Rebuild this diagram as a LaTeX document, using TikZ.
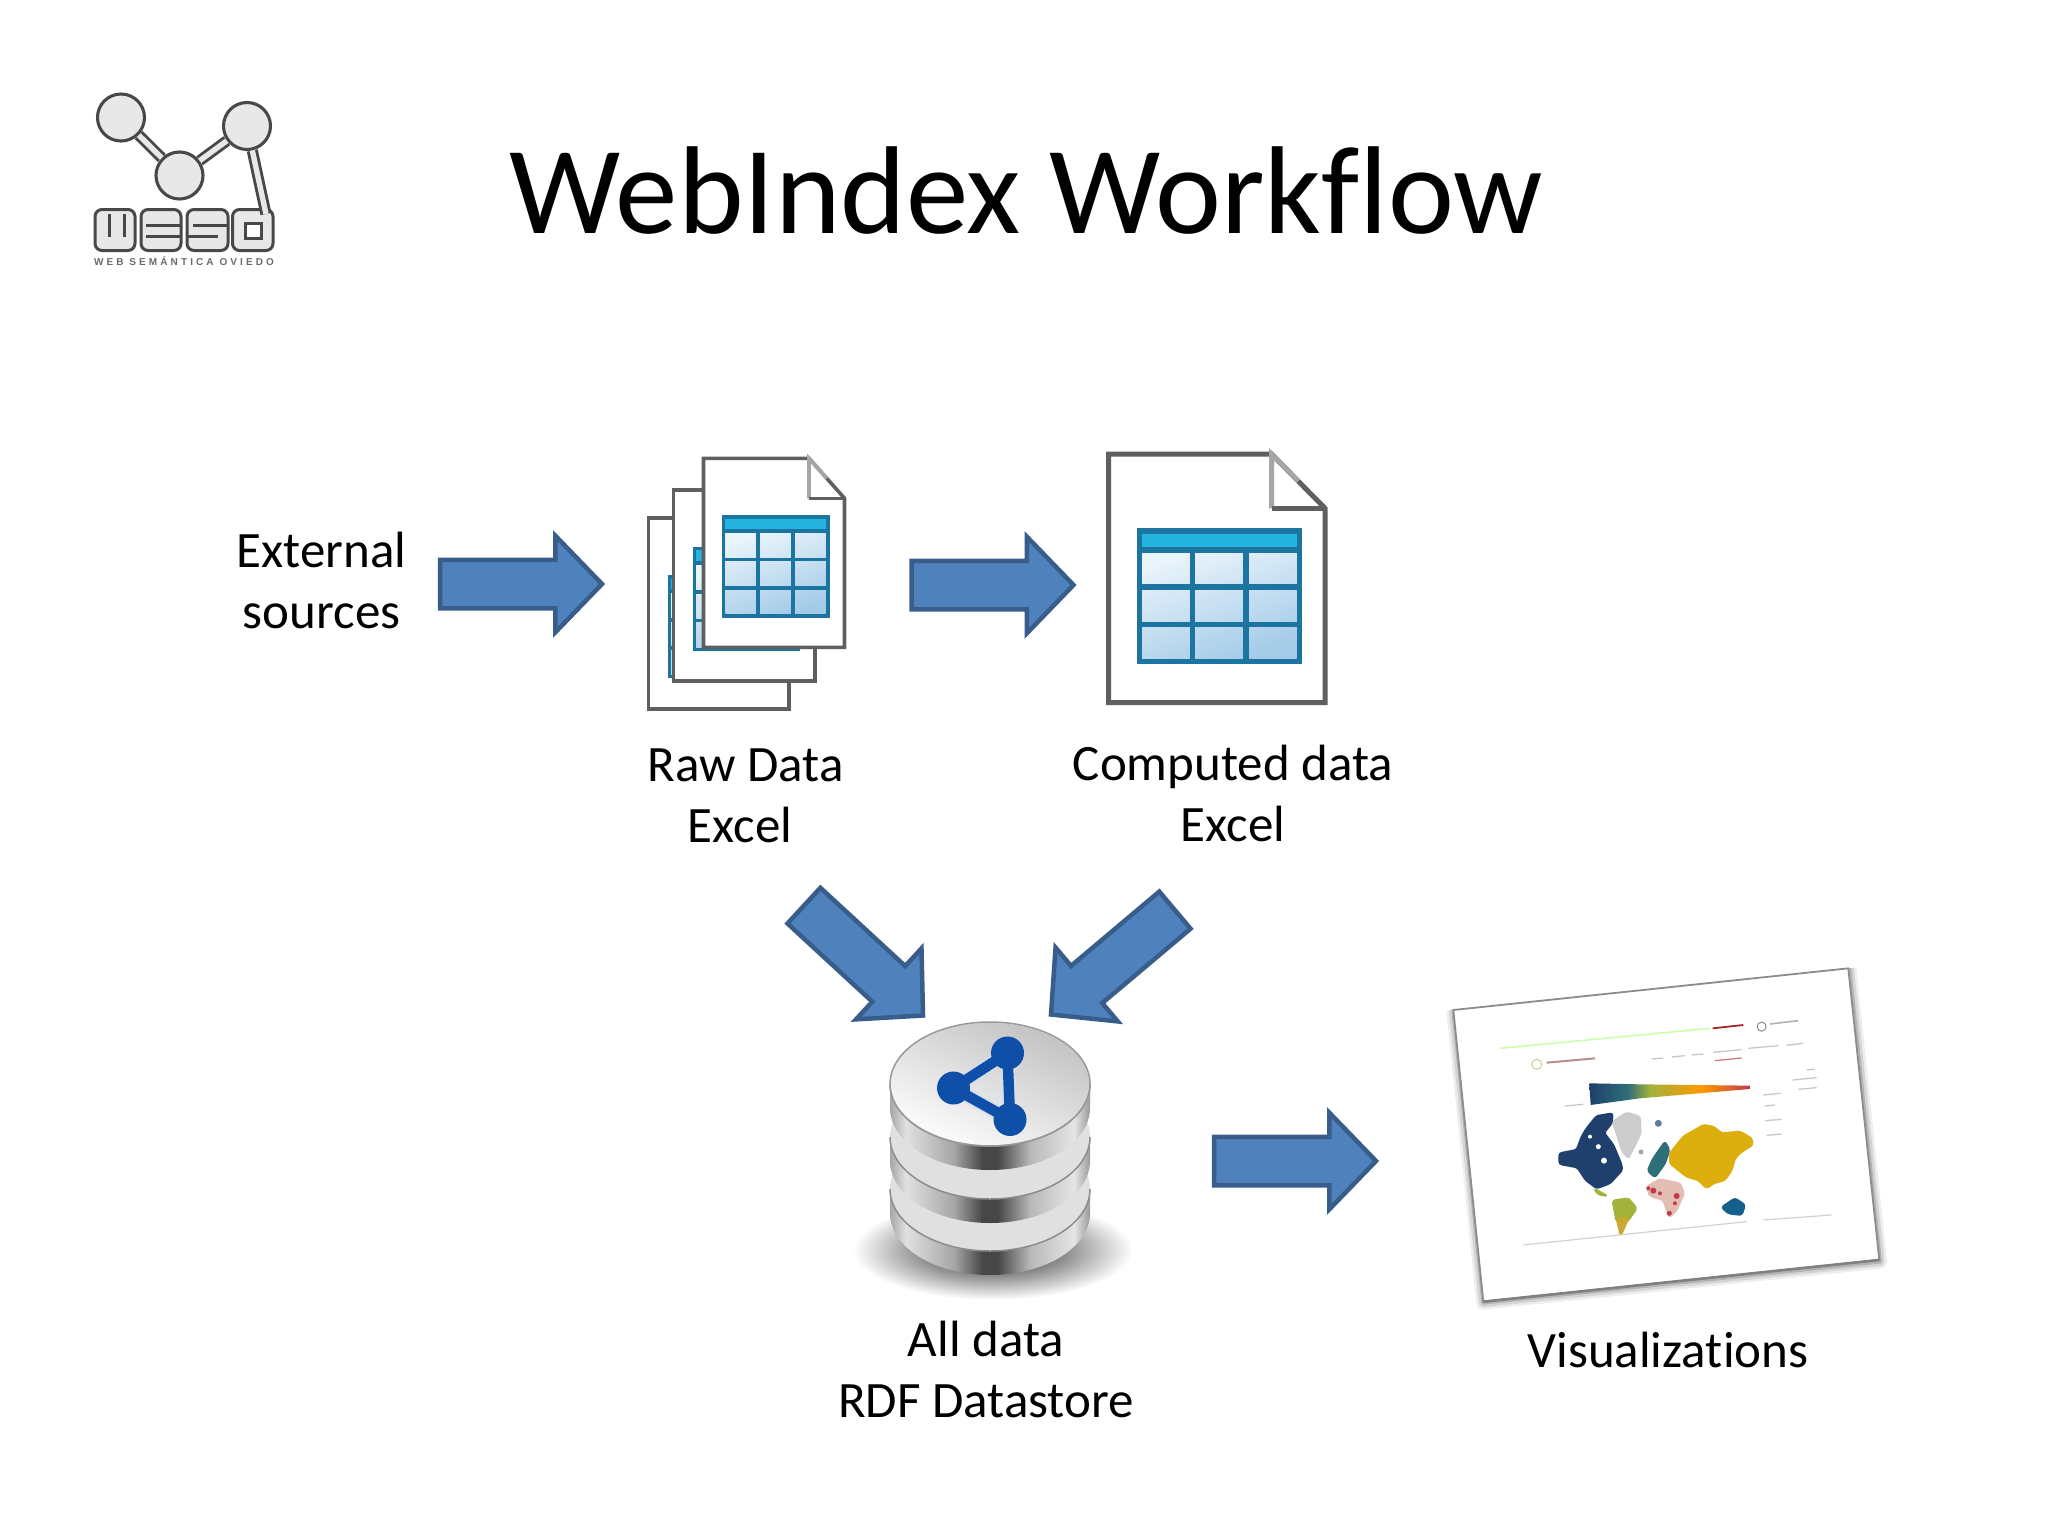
\documentclass[tikz,border=0pt]{standalone}
\usepackage{fontspec}
\usepackage{tikz}
\usetikzlibrary{shapes.arrows}
\setmainfont[Ligatures=NoCommon]{Carlito}
\newfontfamily\tagfont[LetterSpace=31]{Liberation Sans}

\definecolor{flowblue}{HTML}{4F81BD}
\definecolor{flowedge}{HTML}{385D8A}
\definecolor{sheetgray}{HTML}{5F5F5F}
\definecolor{foldgray}{HTML}{A6A6A6}
\definecolor{tableedge}{HTML}{1C75A0}
\definecolor{tablehead}{HTML}{25B3E0}
\definecolor{tablelight}{HTML}{EAF4FB}
\definecolor{tabledark}{HTML}{A4CBE8}
\definecolor{logodark}{HTML}{484848}
\definecolor{logolight}{HTML}{E8E8E8}
\definecolor{rdfblue}{HTML}{0F4FA8}
\definecolor{asiagold}{HTML}{DCAE0E}
\definecolor{mapnavy}{HTML}{1F3F6C}
\definecolor{mapteal}{HTML}{2F6F78}
\definecolor{mapolive}{HTML}{A3B23A}
\definecolor{mapochre}{HTML}{C9A92F}
\definecolor{mappink}{HTML}{E3BDB4}
\definecolor{mapred}{HTML}{C23A4A}
\definecolor{mapocean}{HTML}{15608A}

\pgfdeclarehorizontalshading{discside}{100bp}{color(0bp)=(black!35); color(25bp)=(black!35);
  color(29bp)=(black!12); color(41bp)=(black!35); color(48bp)=(black!72); color(52bp)=(black!72);
  color(60bp)=(black!28); color(71bp)=(black!10); color(75bp)=(black!40); color(100bp)=(black!40)}
\pgfdeclareradialshading{dbshadow}{\pgfpointorigin}{color(0bp)=(black!62); color(12bp)=(black!48);
  color(25bp)=(white); color(50bp)=(white)}
\pgfdeclarehorizontalshading{indexbar}{100bp}{color(0bp)=(mapnavy); color(25bp)=(mapnavy);
  color(37bp)=(mapteal); color(44bp)=(mapolive); color(60bp)=(orange!80!yellow);
  color(75bp)=(mapred); color(100bp)=(mapred)}

\tikzset{
  flowarrow/.style={shape=single arrow, draw=flowedge, fill=flowblue, line width=4.5pt, inner sep=0pt, inner ysep=22pt, outer sep=0pt,
    minimum height=162pt, minimum width=92pt, single arrow head extend=24pt, single arrow tip angle=92, anchor=tip},
  label/.style={font=\fontsize{51}{61}\selectfont, align=center, inner sep=0pt},
  logoball/.style={shape=circle, draw=logodark, fill=logolight, line width=3.1pt, minimum size=47pt, inner sep=0pt},
  logobar/.style={draw=logodark, line width=2.9pt, double=logolight, double distance=5.4pt},
  logoglyph/.style={draw=logodark, fill=logolight, line width=3pt, rounded corners=7pt},
  logoslit/.style={draw=logodark, line width=3pt},
  sheet/.style={draw=sheetgray, fill=white, line join=miter},
  mapblob/.style={line width=2pt, line join=round, rounded corners=2.5pt},
  navblob/.style={line width=1.3pt, draw=black!22}
}

% one page of a document, with its folded corner: left, top, right, bottom, fold x, fold y, line width
\newcommand{\docsheet}[7]{
  \draw[sheet, line width=#7pt] (#1,#2) -- (#5,#2) -- (#3,#6) -- (#3,#4) -- (#1,#4) -- cycle;
  \draw[foldgray, line width=#7pt] (#5,#6) -- (#5,#2) -- ({#5+0.5*(#3-#5)},{#2+0.5*(#6-#2)});
  \draw[sheetgray, line width=#7pt] (#5,#6) -- (#3,#6);
}
% the table on a page: left, top, right, bottom, border
\newcommand{\sheettable}[5]{
  \fill[tableedge] (#1,#2) rectangle (#3,#4);
  \shade[top color=tablelight, bottom color=tabledark, shading angle=20]
    ({#1+#5},{#2+0.16*(#4-#2)}) rectangle ({#3-#5},{#4-#5});
  \fill[tablehead] ({#1+#5},{#2+#5}) rectangle ({#3-#5},{#2+0.14*(#4-#2)});
  \draw[tableedge, line width=#5pt]
    (#1,{#2+0.16*(#4-#2)}) -- (#3,{#2+0.16*(#4-#2)})
    (#1,{#2+0.434*(#4-#2)}) -- (#3,{#2+0.434*(#4-#2)})
    (#1,{#2+0.709*(#4-#2)}) -- (#3,{#2+0.709*(#4-#2)})
    ({#1+0.338*(#3-#1)},{#2+0.16*(#4-#2)}) -- ({#1+0.338*(#3-#1)},#4)
    ({#1+0.662*(#3-#1)},{#2+0.16*(#4-#2)}) -- ({#1+0.662*(#3-#1)},#4);
}
% one disc of the datastore, by the height of its upper face
\newcommand{\dbdisc}[1]{
  \shade[shading=discside] (890,#1) -- (890,#1+24) arc[start angle=180, end angle=360, x radius=100pt, y radius=62pt] -- (1090,#1) -- cycle;
  \fill[black!12] (990,#1) ellipse[x radius=100pt, y radius=62pt];
  \draw[black!45, line width=1.5pt] (890,#1) arc[start angle=180, end angle=360, x radius=100pt, y radius=62pt];
}

\begin{document}
\begin{tikzpicture}[x=1pt, y=-1pt]
  \useasboundingbox (0,0) rectangle (2048,1536);

  % logo
  \node[logoball] (ball1) at (121,117.5){};
  \node[logoball] (ball2) at (179.5,175.5){};
  \node[logoball] (ball3) at (247,126){};
  \coordinate (logotop) at (266,214);
  \draw[logoglyph] (95,209.5) rectangle (135,250.5);
  \draw[logoglyph] (141,209.5) rectangle (181,250.5);
  \draw[logoglyph] (187,209.5) rectangle (228,250.5);
  \draw[logoglyph] (232.5,209.5) rectangle (273,250.5);
  \draw[logobar] (ball1) -- (ball2);
  \draw[logobar] (ball2) -- (ball3);
  \draw[logobar] (ball3) -- (logotop);
  \draw[logoslit] (109.5,214) -- (109.5,237) (124,214) -- (124,237);
  \draw[logoslit] (146,225.5) -- (181,225.5) (146,236.5) -- (181,236.5);
  \draw[logoslit] (193,225.5) -- (228,225.5) (187,236.5) -- (218,236.5);
  \draw[logoslit, fill=white] (245,223.5) rectangle (261.5,238.5);
  \node[font=\tagfont\bfseries\fontsize{10}{10}\selectfont, text=black!58, inner sep=0pt] (logotag) at (184,261){WEB SEMÁNTICA OVIEDO};

  \node[font=\fontsize{125}{130}\selectfont, inner sep=0pt] (title) at (1026,191){WebIndex Workflow};

  % raw data pages, back to front
  \docsheet{648.5}{517.7}{789}{709}{789}{517.7}{3.6}
  \sheettable{667.5}{575}{775}{678.3}{3.6}
  \docsheet{673.5}{490}{815}{680.7}{815}{490}{3.6}
  \sheettable{692.5}{546.7}{800}{650.7}{3.6}
  \docsheet{703.5}{458.3}{844.5}{647.3}{809}{498.3}{3.6}
  \sheettable{721.5}{515}{829.5}{617.7}{3.8}

  % computed data page
  \docsheet{1108.5}{454}{1325}{702.7}{1271.5}{508.3}{5}
  \sheettable{1136.5}{528.3}{1302}{664}{5.5}

  % datastore
  \shade[shading=dbshadow] (993,1250) ellipse[x radius=140pt, y radius=50pt];
  \dbdisc{1189}
  \dbdisc{1137}
  \dbdisc{1084}
  \shade[top color=black!24, bottom color=black!1, shading angle=-25] (990,1084) ellipse[x radius=99pt, y radius=61pt];
  \draw[black!40, line width=1.5pt] (990,1084) ellipse[x radius=100pt, y radius=62pt];
  \draw[rdfblue!18, line width=14pt, line join=round] (1007.5,1053) -- (953.5,1088) -- (1010,1119.5) -- cycle;
  \draw[rdfblue, line width=10.5pt, line join=round] (1007.5,1053) -- (953.5,1088) -- (1010,1119.5) -- cycle;
  \fill[rdfblue] (1007.5,1053) circle[radius=16.5pt] (953.5,1088) circle[radius=16.5pt] (1010,1119.5) circle[radius=16.5pt];

  % visualization card, in finer units
  \begin{scope}[shift={(1420,950)}, x=0.3333pt, y=-0.3333pt]
    \foreach \w/\o in {14/0.07, 9/0.1, 4/0.16}{
      \draw[black, opacity=\o, line width=\w pt, line join=round] (100,180) -- (190,1058) -- (1380,935) -- (1288,55);
    }
    \draw[fill=white, draw=black!45, line width=1.8pt] (100,180) -- (1285,55) -- (1378,930) -- (190,1055) -- cycle;
    \draw[black!50, line width=2.6pt] (190,1055) -- (1378,930);
    % page header
    \draw[green!60!yellow!35, line width=1.5pt] (240,295) -- (870,235);
    \draw[red!60!black!85, line width=1.8pt] (878,235) -- (970,225);
    \draw[black!45, line width=1pt] (1025,230) circle[radius=4.5pt];
    \draw[black!30, line width=1.6pt] (1050,222) -- (1135,212);
    \draw[mapolive!60, line width=1pt] (350,343) circle[radius=5pt];
    \draw[red!40!black!45, line width=2pt] (380,338) -- (525,325);
    \draw[navblob] (695,327) -- (730,324) (755,321) -- (795,317) (815,315) -- (850,312) (880,307) -- (965,299) (985,295) -- (1075,287) (1100,286) -- (1150,280);
    \draw[navblob, draw=mapred!70] (885,332) -- (965,324);
    % colour scale
    \shade[shading=indexbar] (508,400) -- (660,403) -- (990,407) -- (990,417) -- (660,445) -- (512,465) -- cycle;
    \draw[navblob] (435,468) -- (490,463) (1030,435) -- (1082,430) (1035,468) -- (1065,465) (1035,512) -- (1085,508) (1040,556) -- (1085,552) (1118,390) -- (1190,383) (1135,418) -- (1190,413) (1160,360) -- (1185,358);
    % continents
    \draw[mapblob, fill=black!20, draw=black!20] (578,515) -- (620,488) -- (660,500) -- (662,550) -- (625,625) -- (605,600) -- (590,550) -- cycle;
    \draw[mapblob, fill=mapnavy, draw=mapnavy] (530,498) -- (578,490) -- (575,520) -- (552,548) -- (580,585) -- (603,640) -- (607,660) -- (570,700) -- (530,715) -- (497,690) -- (472,652) -- (418,642) -- (418,610) -- (470,600) -- (485,560) -- (500,535) -- cycle;
    \fill[white] (535,590) circle[radius=2.5pt] (552,632) circle[radius=3pt] (510,560) circle[radius=2pt];
    \draw[mapblob, fill=mapteal, draw=mapteal] (735,575) -- (748,600) -- (735,640) -- (705,682) -- (683,662) -- (700,625) -- cycle;
    \fill[mapnavy!70] (715,520) circle[radius=3.5pt];
    \fill[black!35] (663,606) circle[radius=2.5pt];
    \draw[mapblob, fill=asiagold, draw=asiagold] (750,610) -- (790,560) -- (850,525) -- (880,530) -- (905,550) -- (960,545) -- (995,565) -- (998,585) -- (965,605) -- (945,625) -- (935,660) -- (915,690) -- (880,700) -- (860,715) -- (835,690) -- (800,680) -- (750,640) -- cycle;
    \draw[mapblob, fill=mappink, draw=mappink] (680,710) -- (720,688) -- (780,700) -- (792,730) -- (770,780) -- (748,802) -- (730,750) -- (690,738) -- cycle;
    \fill[mapred] (700,722) circle[radius=3pt] (770,738) circle[radius=3pt] (748,790) circle[radius=2.5pt] (765,760) circle[radius=2pt] (685,715) circle[radius=2pt] (720,730) circle[radius=2pt];
    \draw[mapblob, fill=mapolive, draw=mapolive] (578,752) -- (625,745) -- (650,775) -- (622,815) -- (590,815) -- cycle;
    \draw[mapblob, fill=mapochre, draw=mapochre] (590,805) -- (625,805) -- (602,857) -- cycle;
    \draw[mapblob, fill=mapolive, draw=mapolive] (522,716) -- (562,738) -- (535,733) -- cycle;
    \draw[mapblob, fill=mapocean, draw=mapocean] (905,772) -- (945,745) -- (975,765) -- (965,795) -- (925,790) -- cycle;
    \draw[black!18, line width=1.2pt] (310,885) -- (980,815) (1030,810) -- (1235,795);
  \end{scope}

  % block arrows
  \node[flowarrow] (extraw) at (602,584){};
  \node[flowarrow] (rawcomp) at (1073.5,585){};
  \node[flowarrow, rotate=-42.7] (rawstore) at (923,1015.5){};
  \node[flowarrow, rotate=-139.9] (compstore) at (1051,1014.5){};
  \node[flowarrow] (storevis) at (1376,1161){};

  \node[label] (sources) at (321.7,580){External\\sources};
  \node[label] (rawdata) at (745.5,795.5){Raw Data\\Excel\hspace*{11pt}};
  \node[label] (compdata) at (1233,793){Computed data\\Excel};
  \node[label] (alldata) at (986,1369.5){All data\\RDF Datastore};
  \node[label] (visuals) at (1668,1349.5){Visualizations};
\end{tikzpicture}
\end{document}
